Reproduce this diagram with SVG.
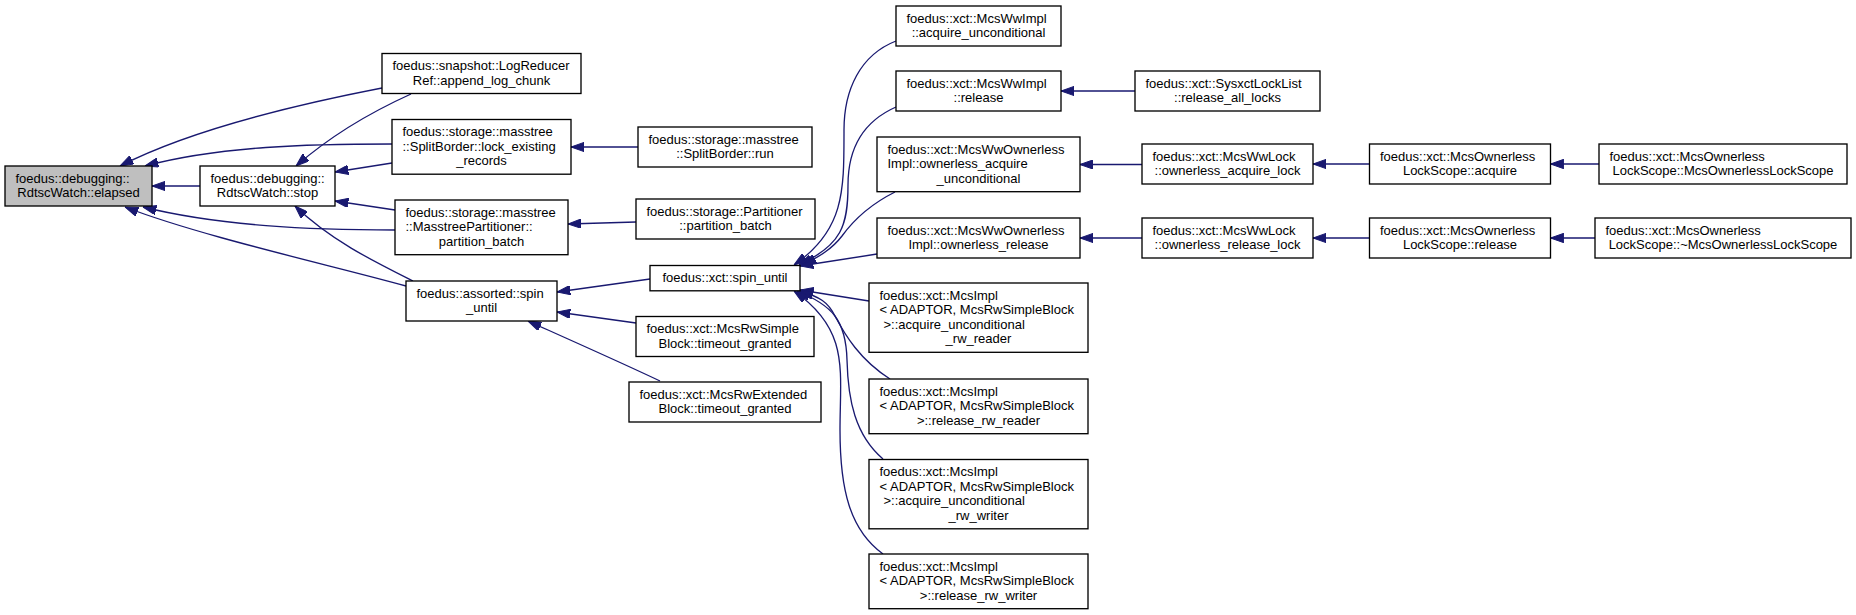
<svg xmlns="http://www.w3.org/2000/svg" width="1856" height="615" viewBox="0 0 1856 615">
<style>
.n rect{fill:#fff;stroke:#000;stroke-width:1.33}
.root rect{fill:#bfbfbf}
text{font-family:"Liberation Sans",Arial,Helvetica,sans-serif;font-size:13px;fill:#000}
.m{text-anchor:middle}
.e path{fill:none;stroke:#191970;stroke-width:1.33;marker-end:url(#a)}
</style>
<defs>
<marker id="a" markerUnits="userSpaceOnUse" viewBox="0 0 13.3 9.4" refX="13.3" refY="4.7" markerWidth="13.3" markerHeight="9.4" orient="auto">
<path d="M0,0 L13.3,4.7 L0,9.4 z" fill="#191970" stroke="#191970" stroke-width="1"/>
</marker>
</defs>
<rect width="1856" height="615" fill="#fff"/>
<g id="edges" class="e">
<path d="M200,186 L152,186"/>
<path d="M382,88 C320,100 200,125 120,166"/>
<path d="M392,144 C310,144 220,146 145,166"/>
<path d="M395,230 C310,230 220,226 143,207"/>
<path d="M406,286 C330,265 200,236 125,207"/>
<path d="M411,94 C380,108 335,132 296,166"/>
<path d="M392,163 L335,172"/>
<path d="M395,210 L335,201"/>
<path d="M413,281 C375,262 330,240 295,206"/>
<path d="M638,147 L571,147"/>
<path d="M636,222 L568,224"/>
<path d="M650,279 L557,292"/>
<path d="M636,323 L557,312"/>
<path d="M660,381 C620,362 570,340 528,321"/>
<path d="M896,41 C860,55 844,90 844,130 C844,190 845,230 794,265"/>
<path d="M896,107 C862,122 848,150 848,185 C848,225 842,245 799,265"/>
<path d="M895,192 C865,207 850,225 842,236 C832,249 820,256 803,265"/>
<path d="M877,254 L800,266"/>
<path d="M869,301 L800,290"/>
<path d="M890,379 C860,360 845,335 835,316 C828,302 820,297 800,291"/>
<path d="M883,459 C855,435 848,400 847,360 C846,320 832,305 797,291"/>
<path d="M883,554 C850,530 840,490 840,430 C840,370 850,330 794,291"/>
<path d="M1135,91 L1061,91"/>
<path d="M1142,164.5 L1080,164.5"/>
<path d="M1369.5,164 L1313,164"/>
<path d="M1599,164 L1550.5,164"/>
<path d="M1142,238 L1080,238"/>
<path d="M1369.5,238 L1313,238"/>
<path d="M1595,238 L1550.5,238"/>
</g>
<g id="elapsed" class="n root"><rect x="5" y="166" width="147" height="40"/><text x="15.5" y="182.5">foedus::debugging::</text><text class="m" x="78.5" y="197">RdtscWatch::elapsed</text></g>
<g id="stop" class="n"><rect x="200" y="166" width="135" height="40"/><text x="210.5" y="182.5">foedus::debugging::</text><text class="m" x="267.5" y="197">RdtscWatch::stop</text></g>
<g id="logreducer" class="n"><rect x="382" y="53.5" width="199" height="40"/><text x="392.5" y="70">foedus::snapshot::LogReducer</text><text class="m" x="481.5" y="84.5">Ref::append_log_chunk</text></g>
<g id="lock_existing" class="n"><rect x="392" y="119.5" width="179" height="54.7"/><text x="402.5" y="136">foedus::storage::masstree</text><text x="402.5" y="150.5">::SplitBorder::lock_existing</text><text class="m" x="481.5" y="165.2">_records</text></g>
<g id="masstree_partitioner" class="n"><rect x="395" y="200" width="173" height="54.7"/><text x="405.5" y="216.5">foedus::storage::masstree</text><text x="405.5" y="231">::MasstreePartitioner::</text><text class="m" x="481.5" y="245.7">partition_batch</text></g>
<g id="assorted_spin_until" class="n"><rect x="406" y="281" width="151" height="40"/><text x="416.5" y="297.5">foedus::assorted::spin</text><text class="m" x="481.5" y="312">_until</text></g>
<g id="splitborder_run" class="n"><rect x="638" y="127" width="174" height="40"/><text x="648.5" y="143.5">foedus::storage::masstree</text><text class="m" x="725" y="158">::SplitBorder::run</text></g>
<g id="partitioner" class="n"><rect x="636" y="199" width="179" height="40"/><text x="646.5" y="215.5">foedus::storage::Partitioner</text><text class="m" x="725.5" y="230">::partition_batch</text></g>
<g id="xct_spin_until" class="n"><rect x="650" y="265.5" width="150" height="25.3"/><text class="m" x="725" y="282">foedus::xct::spin_until</text></g>
<g id="mcsrwsimple" class="n"><rect x="636" y="316.5" width="178" height="40"/><text x="646.5" y="333">foedus::xct::McsRwSimple</text><text class="m" x="725" y="347.5">Block::timeout_granted</text></g>
<g id="mcsrwextended" class="n"><rect x="629" y="382" width="192" height="40"/><text x="639.5" y="398.5">foedus::xct::McsRwExtended</text><text class="m" x="725" y="413">Block::timeout_granted</text></g>
<g id="wwimpl_acquire" class="n"><rect x="896" y="6" width="165" height="40"/><text x="906.5" y="22.5">foedus::xct::McsWwImpl</text><text class="m" x="978.5" y="37">::acquire_unconditional</text></g>
<g id="wwimpl_release" class="n"><rect x="896" y="71" width="165" height="40"/><text x="906.5" y="87.5">foedus::xct::McsWwImpl</text><text class="m" x="978.5" y="102">::release</text></g>
<g id="ww_ownerless_acquire" class="n"><rect x="877" y="137" width="203" height="54.7"/><text x="887.5" y="153.5">foedus::xct::McsWwOwnerless</text><text x="887.5" y="168">Impl::ownerless_acquire</text><text class="m" x="978.5" y="182.7">_unconditional</text></g>
<g id="ww_ownerless_release" class="n"><rect x="877" y="218" width="203" height="40"/><text x="887.5" y="234.5">foedus::xct::McsWwOwnerless</text><text class="m" x="978.5" y="249">Impl::ownerless_release</text></g>
<g id="mcsimpl_acq_reader" class="n"><rect x="869" y="283" width="219" height="69.3"/><text x="879.5" y="299.5">foedus::xct::McsImpl</text><text x="879.5" y="314">&lt; ADAPTOR, McsRwSimpleBlock</text><text x="883.5" y="328.7">&gt;::acquire_unconditional</text><text class="m" x="978.5" y="343.3">_rw_reader</text></g>
<g id="mcsimpl_rel_reader" class="n"><rect x="869" y="379" width="219" height="54.7"/><text x="879.5" y="395.5">foedus::xct::McsImpl</text><text x="879.5" y="410">&lt; ADAPTOR, McsRwSimpleBlock</text><text class="m" x="978.5" y="424.7">&gt;::release_rw_reader</text></g>
<g id="mcsimpl_acq_writer" class="n"><rect x="869" y="459.5" width="219" height="69.3"/><text x="879.5" y="476">foedus::xct::McsImpl</text><text x="879.5" y="490.5">&lt; ADAPTOR, McsRwSimpleBlock</text><text x="883.5" y="505.2">&gt;::acquire_unconditional</text><text class="m" x="978.5" y="519.8">_rw_writer</text></g>
<g id="mcsimpl_rel_writer" class="n"><rect x="869" y="554" width="219" height="54.7"/><text x="879.5" y="570.5">foedus::xct::McsImpl</text><text x="879.5" y="585">&lt; ADAPTOR, McsRwSimpleBlock</text><text class="m" x="978.5" y="599.7">&gt;::release_rw_writer</text></g>
<g id="sysxct_release_all" class="n"><rect x="1135" y="71" width="185" height="40"/><text x="1145.5" y="87.5">foedus::xct::SysxctLockList</text><text class="m" x="1227.5" y="102">::release_all_locks</text></g>
<g id="wwlock_acquire" class="n"><rect x="1142" y="144" width="171" height="40"/><text x="1152.5" y="160.5">foedus::xct::McsWwLock</text><text class="m" x="1227.5" y="175">::ownerless_acquire_lock</text></g>
<g id="wwlock_release" class="n"><rect x="1142" y="218" width="171" height="40"/><text x="1152.5" y="234.5">foedus::xct::McsWwLock</text><text class="m" x="1227.5" y="249">::ownerless_release_lock</text></g>
<g id="scope_acquire" class="n"><rect x="1369.5" y="144" width="181" height="40"/><text x="1380" y="160.5">foedus::xct::McsOwnerless</text><text class="m" x="1460" y="175">LockScope::acquire</text></g>
<g id="scope_release" class="n"><rect x="1369.5" y="218" width="181" height="40"/><text x="1380" y="234.5">foedus::xct::McsOwnerless</text><text class="m" x="1460" y="249">LockScope::release</text></g>
<g id="scope_ctor" class="n"><rect x="1599" y="144" width="248" height="40"/><text x="1609.5" y="160.5">foedus::xct::McsOwnerless</text><text class="m" x="1723" y="175">LockScope::McsOwnerlessLockScope</text></g>
<g id="scope_dtor" class="n"><rect x="1595" y="218" width="256" height="40"/><text x="1605.5" y="234.5">foedus::xct::McsOwnerless</text><text class="m" x="1723" y="249">LockScope::~McsOwnerlessLockScope</text></g>
</svg>
